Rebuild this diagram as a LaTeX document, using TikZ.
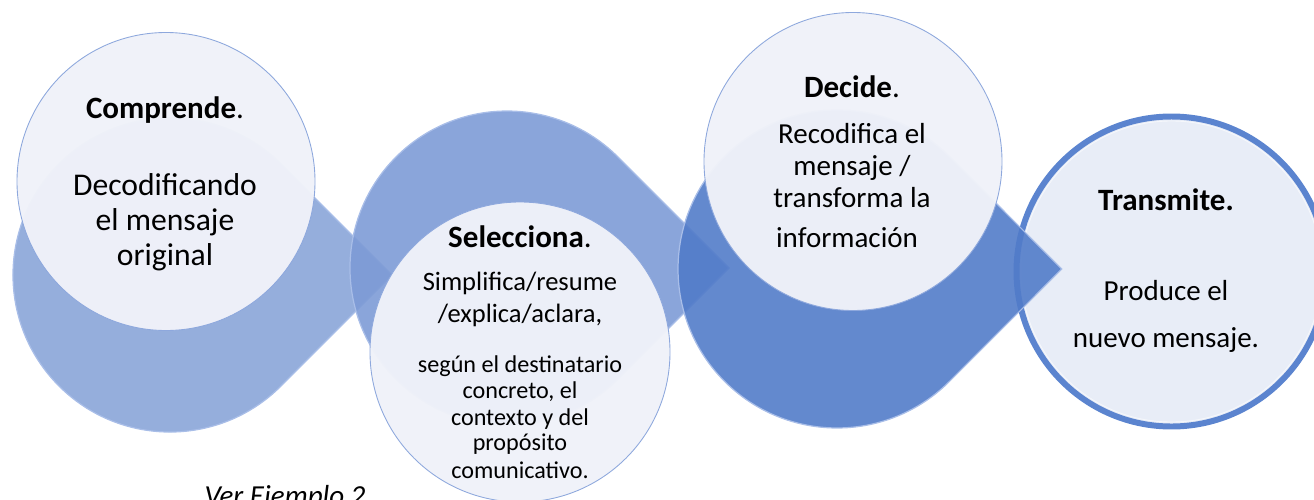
\documentclass[tikz,border=0pt]{standalone}
\usepackage{fontspec}
\setmainfont{Carlito}
\definecolor{dropA}{HTML}{89A5D8}
\definecolor{dropB}{HTML}{7D9BD6}
\definecolor{dropC}{HTML}{527CC9}
\definecolor{dropEdge}{HTML}{A9BEE8}
\definecolor{glass}{HTML}{F0F2F9}
\definecolor{glassEdge}{HTML}{8EA8DD}
\definecolor{ring}{HTML}{5B84CF}
\definecolor{ringFill}{HTML}{E8EDF7}
\begin{document}
\begin{tikzpicture}[scale=0.2]
\tikzstyle{every node}+=[inner sep=0pt]
\tikzstyle{drop}=[draw=dropEdge, line width=1.4pt, fill opacity=0.9]
\tikzstyle{bubble}=[draw=glassEdge, line width=1pt, fill=glass, fill opacity=0.97]
\tikzstyle{title}=[anchor=base, font=\fontsize{35.3}{40}\selectfont]
\tikzstyle{big}=[anchor=base, font=\fontsize{36}{40}\selectfont]
\tikzstyle{body}=[anchor=base, font=\fontsize{33}{38}\selectfont]
\tikzstyle{mid}=[anchor=base, font=\fontsize{30.2}{34}\selectfont]
\tikzstyle{small}=[anchor=base, font=\fontsize{27.5}{30}\selectfont]
\useasboundingbox (0,0) rectangle (262.8,-99.8);
% Transmite (under the last tip)
\draw [ring, line width=6.8pt, fill=ringFill] (234.3,-54.3) circle (31.0);
\draw [white, opacity=0.6, line width=1pt] (234.3,-54.3) circle (30.1);
% Comprende
\draw [drop, fill=dropA] (56.2,-32.8) arc (45:315:31.4) -- (78.4,-55) -- cycle;
\draw [bubble] (33.2,-36.3) circle (29.8);
\draw (33.0,-23.6) node [title] (com) {\textbf{Comprende}.};
\draw (33.0,-39.0) node [big] (com1) {Decodificando};
\draw (33.0,-46.0) node [big] (com2) {el mensaje};
\draw (33.0,-53.0) node [big] (com3) {original};
% Selecciona
\draw [drop, fill=dropB] (123.6,-31.4) arc (45:315:31.4) -- (145.8,-53.6) -- cycle;
\draw [bubble] (104,-70.4) circle (30);
\draw (104.0,-49.4) node [title] (sel) {\textbf{Selecciona}.};
\draw (104.0,-58.0) node [mid] (sel1) {Simplifica/resume};
\draw (104.0,-64.4) node [mid] (sel2) {/explica/aclara,};
\draw (104.0,-74.4) node [small] (sel3) {según el destinatario};
\draw (104.0,-79.6) node [small] (sel4) {concreto, el};
\draw (104.0,-85.0) node [small] (sel5) {contexto y del};
\draw (104.0,-90.0) node [small] (sel6) {propósito};
\draw (104.0,-95.6) node [small] (sel7) {comunicativo.};
% Decide
\draw [drop, fill=dropC] (189.89,-31.31) arc (45:315:31.8) -- (212.37,-53.8) -- cycle;
\draw [bubble] (170.6,-32.3) circle (29.8);
\draw (170.4,-19.4) node [title] (dec) {\textbf{Decide}.};
\draw (170.4,-28.6) node [body] (dec1) {Recodifica el};
\draw (170.4,-35.0) node [body] (dec2) {mensaje /};
\draw (170.4,-41.4) node [body] (dec3) {transforma la};
\draw (169.4,-49.4) node [body] (dec4) {información};
% Transmite text
\draw (233.2,-42.0) node [title] (tra) {\textbf{Transmite.}};
\draw (233.2,-60.0) node [body] (tra1) {Produce el};
\draw (233.2,-69.4) node [body] (tra2) {nuevo mensaje.};
% nota
\draw (57.0,-101.0) node [body] (ver) {\itshape Ver Ejemplo 2};
\end{tikzpicture}
\end{document}
